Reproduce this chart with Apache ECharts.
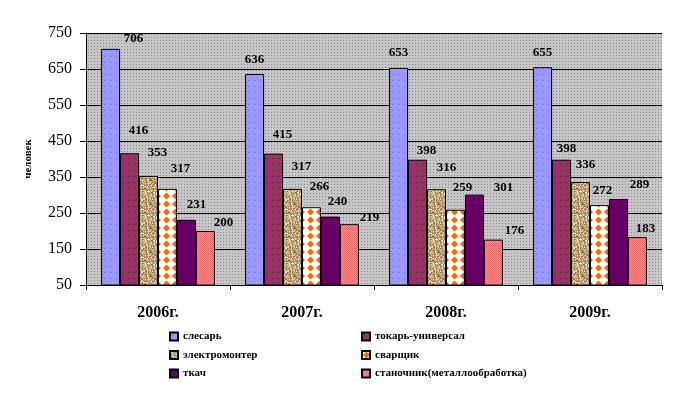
<!DOCTYPE html>
<html>
<head>
<meta charset="utf-8">
<script src="https://cdn.jsdelivr.net/npm/echarts@6/dist/echarts.min.js"></script>
<style>html,body{margin:0;padding:0;background:#fff;}#c{width:678px;height:394px;}</style>
</head>
<body>
<div id="c"></div>
<script>
const categories = ['2006г.', '2007г.', '2008г.', '2009г.'];
const seriesNames = ['слесарь', 'токарь-универсал', 'электромонтер', 'сварщик', 'ткач', 'станочник(металлообработка)'];
const slesar = [706, 636, 653, 655];
const tokar = [416, 415, 398, 398];
const elektromonter = [353, 317, 316, 336];
const svarshchik = [317, 266, 259, 272];
const tkach = [231, 240, 301, 289];
const stanochnik = [200, 219, 176, 183];
const yTicks = { min: 50, max: 750, interval: 100 };

// label placement (pixels above bar top, horizontal shift) as in the original
const labelAbove = [[10, 14, 15, 15], [23, 19, 9, 11], [23, 22, 22, 17], [20, 21, 22, 14], [15, 15, 7, 14], [8, 7, 9, 8]];
const labelShift = [[23, 0, 0, 0], [9, 9, 9, 5], [9, 9, 10, 5], [13, 8, 7, 3], [10, 7, 29, 21], [18, 20, 21, 8]];

function mk(w, h, draw) {
  const c = document.createElement('canvas');
  c.width = w; c.height = h;
  const g = c.getContext('2d');
  draw(g, w, h);
  return { image: c, repeat: 'repeat' };
}
function hash(x, y) {
  let n = (x * 374761393 + y * 668265263) | 0;
  n = (n ^ (n >>> 13)) * 1274126177 | 0;
  return ((n ^ (n >>> 16)) >>> 0) / 4294967295;
}
const patBg = mk(3, 3, (g) => { g.fillStyle = '#c6c6c6'; g.fillRect(0, 0, 3, 3); g.fillStyle = '#8c8c8c'; g.fillRect(1, 1, 1, 1); });
const patSlesar = mk(6, 6, (g) => { g.fillStyle = '#9999ff'; g.fillRect(0, 0, 6, 6); g.fillStyle = '#6666cc'; g.fillRect(2, 2, 1, 1); });
const patTokar = mk(6, 6, (g) => { g.fillStyle = '#993366'; g.fillRect(0, 0, 6, 6); g.fillStyle = '#4d1a33'; g.fillRect(2, 2, 1, 1); });
const patElek = mk(24, 24, (g) => {
  const cols = ['#d8c49c', '#b89a6a', '#8a6a40', '#e8dcc0', '#a88858', '#c8b080'];
  for (let y = 0; y < 24; y++) for (let x = 0; x < 24; x++) {
    g.fillStyle = cols[Math.floor(hash(x, y) * cols.length)];
    g.fillRect(x, y, 1, 1);
  }
});
const patSvar = mk(9, 8, (g) => {
  g.fillStyle = '#ffffff'; g.fillRect(0, 0, 9, 8);
  g.fillStyle = '#ff6600';
  g.beginPath(); g.moveTo(4.5, 0.5); g.lineTo(8, 4); g.lineTo(4.5, 7.5); g.lineTo(1, 4); g.closePath(); g.fill();
});
const patTkach = '#660066';
const patStan = mk(2, 2, (g) => { g.fillStyle = '#ff8c8c'; g.fillRect(0, 0, 2, 2); g.fillStyle = '#f06a6a'; g.fillRect(0, 0, 1, 1); g.fillRect(1, 1, 1, 1); });

const values = [slesar, tokar, elektromonter, svarshchik, tkach, stanochnik];
const fills = [patSlesar, patTokar, patElek, patSvar, patTkach, patStan];

const series = seriesNames.map((name, i) => ({
  name: name,
  type: 'bar',
  barGap: '0%',
  barCategoryGap: '21%',
  itemStyle: { color: fills[i], borderColor: '#000', borderWidth: 1 },
  data: values[i].map((v, j) => ({
    value: v,
    label: { offset: [labelShift[i][j], 6.5 - labelAbove[i][j]] }
  })),
  label: {
    show: true, position: 'top', distance: 0,
    fontFamily: 'Liberation Serif', fontWeight: 'bold', fontSize: 13, color: '#000'
  }
}));

const legendText = { fontFamily: 'Liberation Serif', fontWeight: 'bold', fontSize: 11, color: '#000', lineHeight: 13 };
const legendBase = { orient: 'vertical', top: 330, height: 64, padding: 0, itemWidth: 8, itemHeight: 8, itemGap: 5.5, icon: 'rect', textStyle: legendText };
const chart = echarts.init(document.getElementById('c'), null, { renderer: 'canvas' });
chart.setOption({
  animation: false,
  backgroundColor: '#fff',
  grid: { left: 86, right: 16, top: 33, bottom: 109, show: true, backgroundColor: patBg, borderWidth: 0 },
  legend: [
    Object.assign({}, legendBase, { left: 169, data: [seriesNames[0], seriesNames[2], seriesNames[4]] }),
    Object.assign({}, legendBase, { left: 361, data: [seriesNames[1], seriesNames[3], seriesNames[5]] })
  ],
  xAxis: {
    type: 'category', data: categories,
    axisLine: { lineStyle: { color: '#000', width: 1 } },
    axisTick: { show: true, length: 5, lineStyle: { color: '#000' } },
    axisLabel: { margin: 20, fontFamily: 'Liberation Serif', fontWeight: 'bold', fontSize: 16, color: '#000' },
    splitLine: { show: false }
  },
  yAxis: {
    type: 'value', min: yTicks.min, max: yTicks.max, interval: yTicks.interval,
    name: 'человек', nameLocation: 'middle', nameGap: 52, nameRotate: 90,
    nameTextStyle: { fontFamily: 'Liberation Serif', fontWeight: 'bold', fontSize: 11, color: '#000' },
    axisLine: { show: true, lineStyle: { color: '#000', width: 1 } },
    axisTick: { show: true, length: 6, lineStyle: { color: '#000' } },
    axisLabel: { margin: 14, fontFamily: 'Liberation Serif', fontSize: 16, color: '#000' },
    splitLine: { show: true, lineStyle: { color: '#000', width: 1 } }
  },
  series: series
});
</script>
</body>
</html>
